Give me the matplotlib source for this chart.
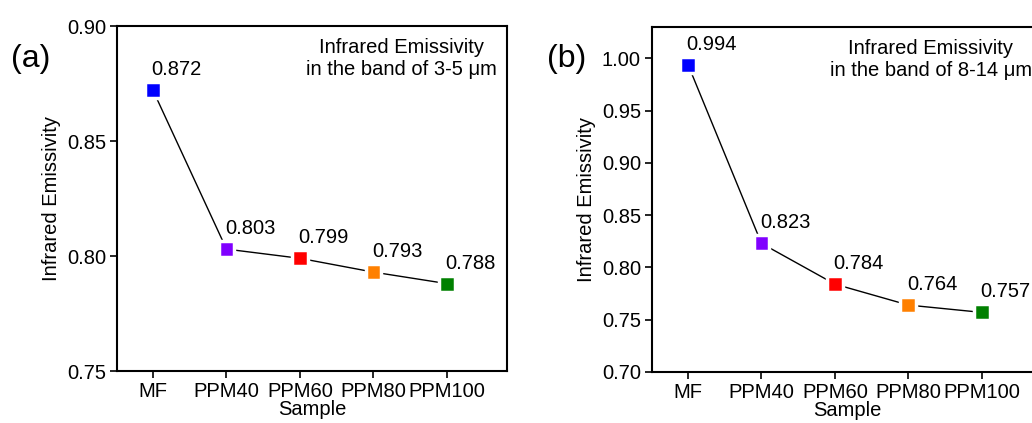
import matplotlib
matplotlib.use("Agg")
import matplotlib.pyplot as plt

# ── data ─────────────────────────────────────────
samples = ["MF", "PPM40", "PPM60", "PPM80", "PPM100"]
emis_3_5 = [0.872, 0.803, 0.799, 0.793, 0.788]
emis_8_14 = [0.994, 0.823, 0.784, 0.764, 0.757]
colors = ["#0000ff", "#8000ff", "#ff0000", "#ff8000", "#008000"]

plt.rcParams["font.family"] = ["Liberation Sans", "DejaVu Sans"]
FS = 14.5

fig = plt.figure(figsize=(10.32, 4.23), dpi=100)
ax_a = fig.add_axes([0.1134, 0.1229, 0.378, 0.8156])
ax_b = fig.add_axes([0.6318, 0.1206, 0.378, 0.8156])

panels = [
    (ax_a, emis_3_5, (0.75, 0.90), [0.75, 0.80, 0.85, 0.90],
     "Infrared Emissivity\nin the band of 3-5 μm", "(a)", 0.011),
    (ax_b, emis_8_14, (0.70, 1.03), [0.70, 0.75, 0.80, 0.85, 0.90, 0.95, 1.00],
     "Infrared Emissivity\nin the band of 8-14 μm", "(b)", 0.530),
]

for ax, vals, ylim, yticks, note, tag, tag_x in panels:
    x = list(range(len(samples)))
    ax.plot(x, vals, color="black", lw=1.0, zorder=1)
    ax.scatter(x, vals, marker="s", s=130, c=colors,
               edgecolors="white", linewidths=2.5, zorder=2)
    for xi, v in zip(x, vals):
        ax.annotate(f"{v:.3f}", (xi, v), xytext=(-1, 8),
                    textcoords="offset points", ha="left", va="bottom",
                    fontsize=FS)
    ax.set_xlim(-0.49, 4.82)
    ax.set_ylim(*ylim)
    ax.set_xticks(x)
    ax.set_xticklabels(samples)
    ax.set_yticks(yticks)
    ax.set_yticklabels([f"{t:.2f}" for t in yticks])
    ax.tick_params(direction="out", length=5, width=1.2, labelsize=FS, pad=3)
    for s in ax.spines.values():
        s.set_linewidth(1.5)
    ax.set_xlabel("Sample", fontsize=FS, labelpad=-1)
    ax.set_ylabel("Infrared Emissivity", fontsize=FS, labelpad=4)
    ax.text(0.974, 0.965, note, transform=ax.transAxes, ha="right", va="top",
            multialignment="center", fontsize=FS, linespacing=1.2)
    fig.text(tag_x, 0.825, tag, fontsize=23, ha="left", va="bottom")

fig.savefig("out.png", dpi=100)
